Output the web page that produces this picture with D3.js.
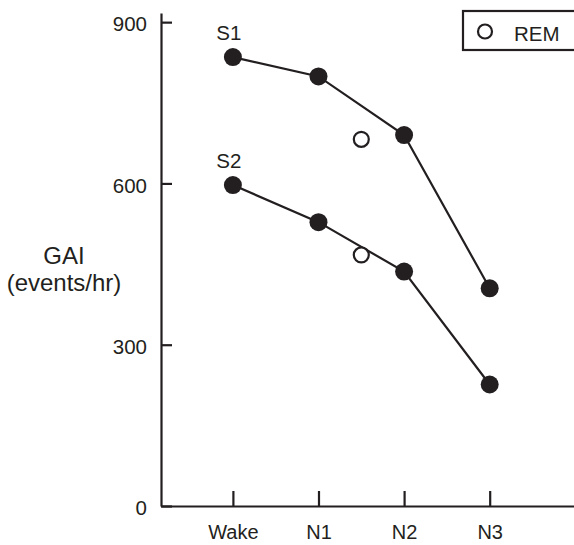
<!DOCTYPE html>
<html>
<head>
<meta charset="utf-8">
<script src="https://cdn.jsdelivr.net/npm/d3@7"></script>
<style>
  body { margin: 0; background: #fff; }
  svg { display: block; font-family: "Liberation Sans", Arial, sans-serif; }
  .axis path, .axis line { stroke: #231f20; stroke-width: 2.2px; }
</style>
</head>
<body>
<div id="svg-container"></div>
<script>
const width = 574;
const height = 545;
const ink = "#231f20";
const fontSize = "20.5px";

// ********* DATA *********
var stages = ["Wake", "N1", "N2", "N3"];
var yTicks = [0, 300, 600, 900];
var s1 = [835, 799, 690, 405];
var s2 = [597, 528, 436, 226];
// REM sits between N1 and N2 on the x axis
var remPos = 1.5;
var remValues = [682, 467];
var seriesNames = ["S1", "S2"];

// ********* SCALES *********
var x_scale = d3.scaleLinear()
  .domain([-0.84, 4.02])
  .range([161, 577]);

var y_scale = d3.scaleLinear()
  .domain([0, 917])
  .range([506, 13]);

// ********* SVG *********
var svg = d3.select("#svg-container").append("svg")
  .attr("width", width)
  .attr("height", height);

// ******** AXES *********
var x_axis = d3.axisBottom(x_scale)
  .tickValues(d3.range(stages.length))
  .tickFormat(function(i){ return stages[i]; })
  .tickSizeInner(-15)
  .tickSizeOuter(0)
  .tickPadding(19);

svg.append("g")
  .attr("class", "axis")
  .attr("transform", `translate(0, ${y_scale(0)})`)
  .call(x_axis)
  .selectAll("text")
  .style("font-size", "20px")
  .style("font-family", "'Liberation Sans', Arial, sans-serif")
  .style("fill", ink);

var y_axis = d3.axisLeft(y_scale)
  .tickValues(yTicks)
  .tickSizeInner(-11)
  .tickSizeOuter(0)
  .tickPadding(14);

svg.append("g")
  .attr("class", "axis")
  .attr("transform", `translate(${x_scale(-0.84)}, 0)`)
  .call(y_axis)
  .selectAll("text")
  .attr("dy", "0.42em")
  .style("font-size", fontSize)
  .style("font-family", "'Liberation Sans', Arial, sans-serif")
  .style("fill", ink);

// ******** Y LABEL *********
var ylab = svg.append("text")
  .attr("text-anchor", "middle")
  .style("font-size", "24px")
  .style("fill", ink);
ylab.append("tspan").attr("x", 64).attr("y", 264).text("GAI");
ylab.append("tspan").attr("x", 64).attr("y", 291).text("(events/hr)");

// ******** LINES + POINTS *********
var line = d3.line()
  .x(function(d, i){ return x_scale(i); })
  .y(function(d){ return y_scale(d); });

[s1, s2].forEach(function(series, k){
  svg.append("path")
    .datum(series)
    .attr("d", line)
    .attr("fill", "none")
    .attr("stroke", ink)
    .attr("stroke-width", 2.2);

  svg.append("g").selectAll("circle")
    .data(series)
    .enter().append("circle")
    .attr("cx", function(d, i){ return x_scale(i); })
    .attr("cy", function(d){ return y_scale(d); })
    .attr("r", 9)
    .attr("fill", ink);

  svg.append("text")
    .attr("x", x_scale(0) - 4)
    .attr("y", y_scale(series[0]) - 17)
    .attr("text-anchor", "middle")
    .style("font-size", fontSize)
    .style("fill", ink)
    .text(seriesNames[k]);
});

// REM open circles
svg.append("g").selectAll("circle")
  .data(remValues)
  .enter().append("circle")
  .attr("cx", x_scale(remPos))
  .attr("cy", function(d){ return y_scale(d); })
  .attr("r", 7.5)
  .attr("fill", "#fff")
  .attr("stroke", ink)
  .attr("stroke-width", 2.2);

// ******** LEGEND *********
var legend = svg.append("g").attr("transform", "translate(463, 11)");
legend.append("rect")
  .attr("width", 120)
  .attr("height", 39)
  .attr("fill", "#fff")
  .attr("stroke", ink)
  .attr("stroke-width", 2.2);
legend.append("circle")
  .attr("cx", 22)
  .attr("cy", 20.5)
  .attr("r", 7)
  .attr("fill", "#fff")
  .attr("stroke", ink)
  .attr("stroke-width", 2.2);
legend.append("text")
  .attr("x", 51)
  .attr("y", 29.5)
  .style("font-size", fontSize)
  .style("fill", ink)
  .text("REM");
</script>
</body>
</html>
